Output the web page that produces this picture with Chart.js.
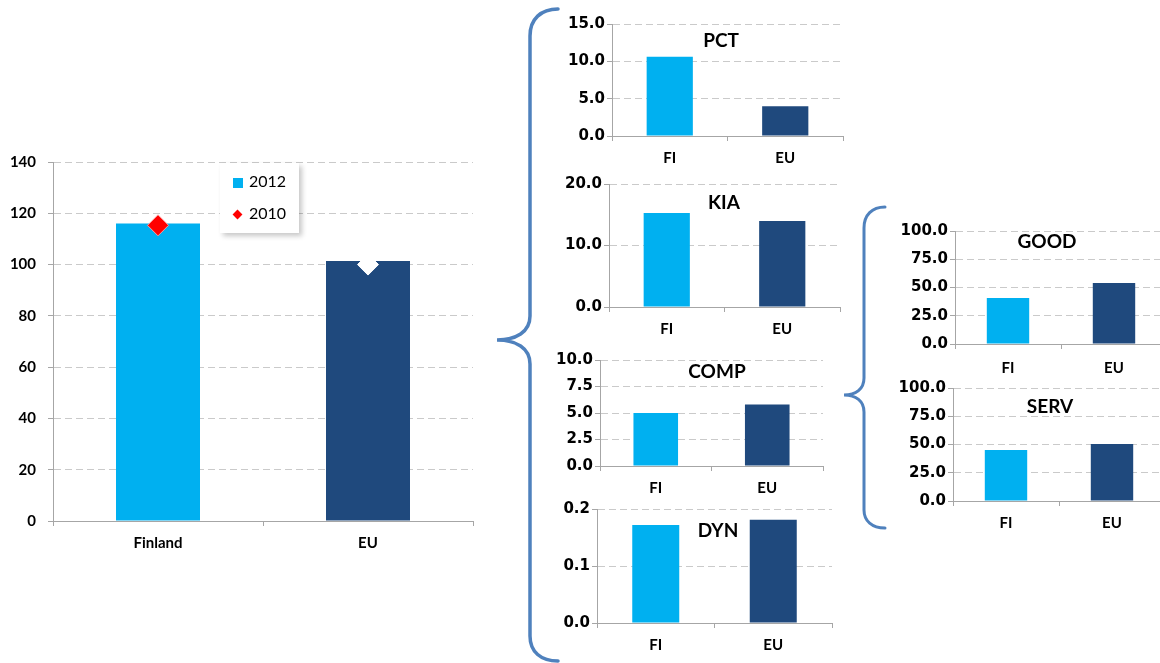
<!DOCTYPE html>
<html>
<head>
<meta charset="utf-8">
<script src="https://cdn.jsdelivr.net/npm/chart.js@4.4.1/dist/chart.umd.min.js"></script>
<style>
  html, body { margin: 0; padding: 0; background: #ffffff; }
  #stage { position: relative; width: 1160px; height: 663px; overflow: hidden; background: #ffffff; }
  #stage canvas { position: absolute; }
  #braces { position: absolute; left: 0; top: 0; }
  #legend {
    position: absolute; background: #ffffff;
    box-shadow: 3px 3px 5px rgba(0,0,0,0.22);
    font: 16px Lato, "Liberation Sans", sans-serif; color: #000;
  }
  #legend .item { position: absolute; left: 13px; height: 20px; line-height: 20px; white-space: nowrap; }
  #legend .sw { display: inline-block; vertical-align: middle; margin-right: 6px; }
</style>
</head>
<body>
<div id="stage">
  <svg id="braces" width="1160" height="663">
    <path d="M558,9 C541,9 530,19 530,36 L530,316 C530,332 516,340 497,340 C516,340 530,348 530,364 L530,636 C530,652 541,661 558,661"
          fill="none" stroke="#4F81BD" stroke-width="3.5" stroke-linecap="round"/>
    <path d="M885,207 C872,207 864,215 864,228 L864,378 C864,389 856,395 844,395 C856,395 864,401 864,412 L864,510 C864,521 872,528 885,528"
          fill="none" stroke="#4F81BD" stroke-width="3" stroke-linecap="round"/>
  </svg>
  <canvas id="c-main"></canvas>
  <canvas id="c-pct"></canvas>
  <canvas id="c-kia"></canvas>
  <canvas id="c-comp"></canvas>
  <canvas id="c-dyn"></canvas>
  <canvas id="c-good"></canvas>
  <canvas id="c-serv"></canvas>
  <div id="legend"></div>
</div>
<script>
// ---- data ----
const mainCategories = ['Finland', 'EU'];
const series2012 = [116.0, 101.4];
const series2010 = [115.3, 100.0];
const mainTicks = [0, 20, 40, 60, 80, 100, 120, 140];

const panelCategories = ['FI', 'EU'];
const pctValues  = [10.6, 4.0];
const pctTicks   = [0, 5, 10, 15];
const kiaValues  = [15.3, 14.0];
const kiaTicks   = [0, 10, 20];
const compValues = [5.0, 5.8];
const compTicks  = [0, 2.5, 5, 7.5, 10];
const dynValues  = [0.172, 0.181];
const dynTicks   = [0, 0.1, 0.2];
const goodValues = [40.7, 54.0];
const goodTicks  = [0, 25, 50, 75, 100];
const servValues = [45.1, 50.4];
const servTicks  = [0, 25, 50, 75, 100];

// ---- styling ----
const LIGHT = '#00B0F0';
const DARK = '#1F497D';
const FONT = 'Lato, "Liberation Sans", sans-serif';
const PANEL_TICK_FONT = '"DejaVu Sans", Verdana, sans-serif';
const GRID = '#CACACA';
const AXIS = '#A6A6A6';

Chart.defaults.font.family = FONT;
Chart.defaults.color = '#000000';

// draws a bold caption inside the plot area
const panelTitle = {
  id: 'panelTitle',
  afterDatasetsDraw(chart, args, opts) {
    if (!opts || !opts.text) return;
    const ctx = chart.ctx;
    ctx.save();
    ctx.font = 'bold ' + opts.size + 'px ' + FONT;
    ctx.fillStyle = '#000000';
    ctx.textAlign = 'center';
    ctx.textBaseline = 'middle';
    ctx.fillText(opts.text, opts.x - chart.canvas.offsetLeft, opts.y - chart.canvas.offsetTop);
    ctx.restore();
  }
};

// place a canvas so that its plot area lands on [left, top, right, bottom]
function placeCanvas(canvas, area, yW, padTop, padRight, xH) {
  const left = area[0] - yW;
  const top = area[1] - padTop;
  const width = area[2] + padRight - left;
  const height = area[3] + xH - top;
  canvas.style.left = left + 'px';
  canvas.style.top = top + 'px';
  canvas.width = width;
  canvas.height = height;
  canvas.style.width = width + 'px';
  canvas.style.height = height + 'px';
}

function makeScales(ticks, yW, xH, opt) {
  return {
    x: {
      grid: { offset: true, drawOnChartArea: false, drawTicks: true, tickLength: 5, color: AXIS, tickBorderDash: [] },
      border: { display: true, color: AXIS, width: 1 },
      ticks: { font: { size: opt.xSize, weight: 'bold' }, padding: opt.xPad, color: '#000' },
      afterFit: s => { s.height = xH; }
    },
    y: {
      min: ticks[0], max: ticks[ticks.length - 1],
      afterBuildTicks: s => { s.ticks = ticks.map(v => ({ value: v })); },
      grid: { color: GRID, tickColor: AXIS, tickLength: 5, tickBorderDash: [], lineWidth: 1 },
      border: { display: true, color: AXIS, width: 1, dash: [7, 4] },
      ticks: {
        font: { size: opt.ySize, weight: 'bold', family: opt.yFamily || FONT }, padding: opt.yPad, color: '#000',
        autoSkip: false,
        callback: v => opt.decimals === 0 ? String(Math.round(v)) : Number(v).toFixed(opt.decimals)
      },
      afterFit: s => { s.width = yW; }
    }
  };
}

// ---- main chart ----
(function () {
  const canvas = document.getElementById('c-main');
  const area = [53, 162, 473, 521];
  const yW = 53, padTop = 26, padRight = 8, xH = 40;
  placeCanvas(canvas, area, yW, padTop, padRight, xH);
  const chart = new Chart(canvas, {
    type: 'bar',
    data: {
      labels: mainCategories,
      datasets: [
        {
          type: 'bar', label: '2012', data: series2012,
          backgroundColor: [LIGHT, DARK], barPercentage: 0.4, categoryPercentage: 1.0, order: 2
        },
        {
          type: 'line', label: '2010', data: series2010, showLine: false,
          pointStyle: 'rectRot', pointRadius: 10.5, pointHoverRadius: 10.5,
          pointBackgroundColor: ['#FF0000', '#FFFFFF'],
          pointBorderColor: ['#FF9A9A', '#FFFFFF'], pointBorderWidth: 1, order: 1,
          clip: false
        }
      ]
    },
    options: {
      responsive: false, animation: false, devicePixelRatio: 1,
      layout: { autoPadding: false, padding: { left: 0, top: padTop, right: padRight, bottom: 0 } },
      plugins: { legend: { display: false }, tooltip: { enabled: false } },
      scales: makeScales(mainTicks, yW, xH, { xSize: 15, xPad: 8, ySize: 15, yPad: 12, decimals: 0 })
    }
  });

  // legend box inside the plot
  const lg = document.getElementById('legend');
  lg.style.left = '220px'; lg.style.top = '163px';
  lg.style.width = '79px'; lg.style.height = '70px';
  chart.data.datasets.forEach((ds, i) => {
    const it = document.createElement('div');
    it.className = 'item';
    it.style.top = (i === 0 ? 8 : 40) + 'px';
    const sw = document.createElement('span');
    sw.className = 'sw';
    if (ds.type === 'bar') {
      sw.style.width = '10px'; sw.style.height = '10px';
      sw.style.background = ds.backgroundColor[0];
    } else {
      sw.style.width = '7px'; sw.style.height = '7px';
      sw.style.background = ds.pointBackgroundColor[0];
      sw.style.transform = 'rotate(45deg)';
      sw.style.marginLeft = '1px'; sw.style.marginRight = '8px';
    }
    it.appendChild(sw);
    it.appendChild(document.createTextNode(ds.label));
    lg.appendChild(it);
  });
})();

// ---- indicator panels ----
const panels = [
  { id: 'c-pct',  title: 'PCT',  values: pctValues,  ticks: pctTicks,  area: [612, 24, 843, 136],   titleAt: [721, 41],  decimals: 1, xPad: 8 },
  { id: 'c-kia',  title: 'KIA',  values: kiaValues,  ticks: kiaTicks,  area: [609, 184, 840, 307],  titleAt: [724, 203], decimals: 1, xPad: 8 },
  { id: 'c-comp', title: 'COMP', values: compValues, ticks: compTicks, area: [600, 360, 823, 466],  titleAt: [717, 372], decimals: 1, xPad: 8 },
  { id: 'c-dyn',  title: 'DYN',  values: dynValues,  ticks: dynTicks,  area: [597, 509, 832, 623],  titleAt: [718, 531], decimals: 1, xPad: 8 },
  { id: 'c-good', title: 'GOOD', values: goodValues, ticks: goodTicks, area: [955, 231, 1167, 344], titleAt: [1047, 242], decimals: 1, xPad: 10 },
  { id: 'c-serv', title: 'SERV', values: servValues, ticks: servTicks, area: [953, 388, 1165, 501], titleAt: [1050, 407], decimals: 1, xPad: 8 }
];

panels.forEach(p => {
  const canvas = document.getElementById(p.id);
  const yW = 70, padTop = 14, padRight = 6, xH = 40;
  placeCanvas(canvas, p.area, yW, padTop, padRight, xH);
  new Chart(canvas, {
    type: 'bar',
    data: {
      labels: panelCategories,
      datasets: [{
        label: p.title, data: p.values,
        backgroundColor: [LIGHT, DARK], barPercentage: 0.4, categoryPercentage: 1.0
      }]
    },
    options: {
      responsive: false, animation: false, devicePixelRatio: 1,
      layout: { autoPadding: false, padding: { left: 0, top: padTop, right: padRight, bottom: 0 } },
      plugins: {
        legend: { display: false }, tooltip: { enabled: false },
        panelTitle: { text: p.title, x: p.titleAt[0], y: p.titleAt[1], size: 19 }
      },
      scales: makeScales(p.ticks, yW, xH, { xSize: 15, xPad: p.xPad, ySize: 15, yPad: 2, decimals: p.decimals, yFamily: PANEL_TICK_FONT })
    },
    plugins: [panelTitle]
  });
});
</script>
</body>
</html>
